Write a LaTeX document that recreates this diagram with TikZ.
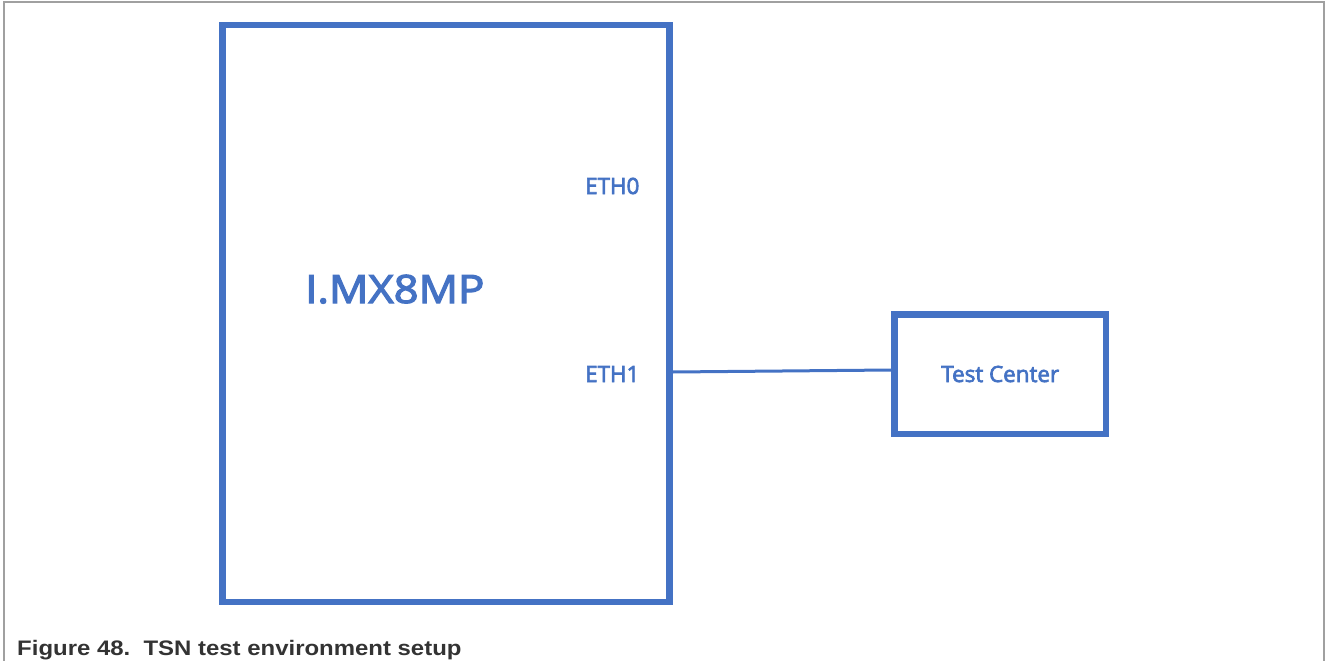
\documentclass[tikz,border=0pt]{standalone}
\usepackage{fontspec}
\setmainfont{Open Sans}
\newfontfamily\semib[FakeBold=3]{Open Sans}
\newfontfamily\capfont{Liberation Sans}
\begin{document}
\begin{tikzpicture}[x=1pt,y=-1pt,
  box/.style={draw=boxblue,line width=6.5pt,inner sep=0pt},
  lbl/.style={text=boxblue,inner sep=0pt,anchor=base west,font=\semib\fontsize{22.4}{26}\selectfont},
  wire/.style={draw=boxblue,line width=3pt}]
\definecolor{boxblue}{HTML}{4472C4}
\definecolor{framegray}{HTML}{A0A0A0}
\definecolor{capgray}{HTML}{333333}
\useasboundingbox (0,0) rectangle (1328,661);
\draw[framegray,line width=1.2pt] (4,661) -- (4,2) -- (1324,2) -- (1324,661);
\node[box,minimum width=447pt,minimum height=577pt] (imx) at (446,313.5) {};
\node[box,minimum width=211.5pt,minimum height=119.5pt] (tc) at (1000.25,374.25) {};
\node[text=boxblue,inner sep=0pt,anchor=base west,font=\semib\fontsize{39}{44}\selectfont,xscale=1.12] (name) at (305,303) {I.MX8MP};
\node[lbl] (eth0) at (585,194) {ETH0};
\node[lbl] (eth1) at (585,382) {ETH1};
\node[lbl,anchor=base] (tct) at (tc.center |- 0,382) {Test Center};
\coordinate (p1) at (imx.east |- 0,372);
\coordinate (p2) at (tc.west |- 0,370);
\draw[wire] (p1) -- (p2);
\node[inner sep=0pt,anchor=base west,text=capgray,xscale=1.14,font=\capfont\bfseries\fontsize{21}{24}\selectfont] (cap) at (17,655) {Figure 48.\ \ TSN test environment setup};
\end{tikzpicture}
\end{document}
